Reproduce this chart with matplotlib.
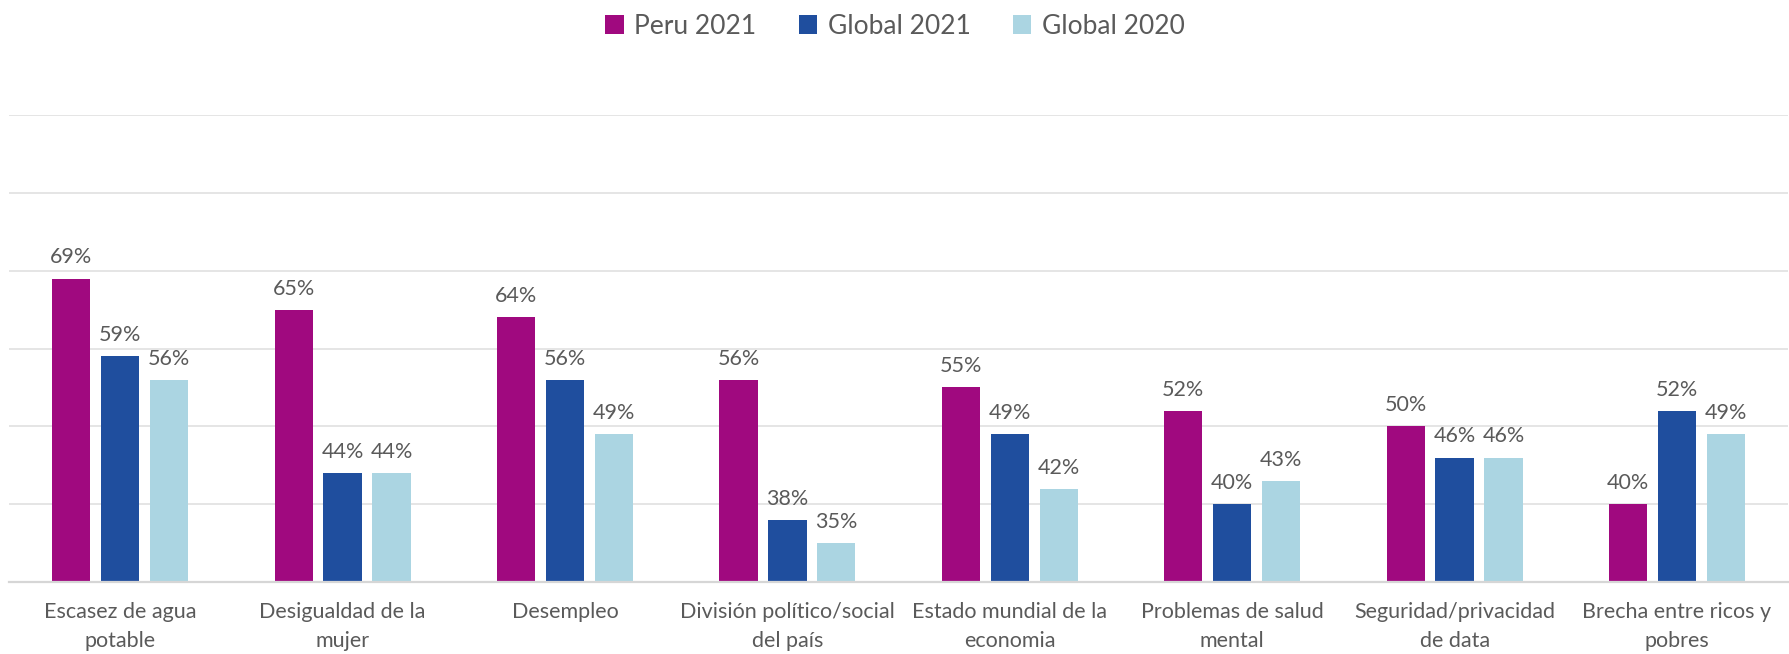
import matplotlib
matplotlib.use("Agg")
import matplotlib.pyplot as plt
import numpy as np

categories = ["Escasez de agua\npotable", "Desigualdad de la\nmujer", "Desempleo",
              "División político/social\ndel país", "Estado mundial de la\neconomia",
              "Problemas de salud\nmental", "Seguridad/privacidad\nde data",
              "Brecha entre ricos y\npobres"]
series_names = ["Peru 2021", "Global 2021", "Global 2020"]
peru_2021 = [69, 65, 64, 56, 55, 52, 50, 40]
global_2021 = [59, 44, 56, 38, 49, 40, 46, 52]
global_2020 = [56, 44, 49, 35, 42, 43, 46, 49]
colors = ["#A0097F", "#1F4E9E", "#ABD5E2"]

plt.rcParams['font.family'] = ['Lato', 'DejaVu Sans']
txt = "#5a5a5a"

fig = plt.figure(figsize=(17.9, 6.54), dpi=100)
ax = fig.add_axes([0.005, 0.110, 0.994, 0.714])

x = np.arange(len(categories))
w = 0.172
step = 0.22
for i, (vals, name) in enumerate(zip([peru_2021, global_2021, global_2020], series_names)):
    pos = x + (i - 1) * step
    ax.bar(pos, np.array(vals) - 30, width=w, bottom=30, color=colors[i], label=name, zorder=3)
    for p, v in zip(pos, vals):
        ax.annotate(f"{v}%", (p, v), xytext=(0, 8), textcoords="offset points",
                    ha="center", va="bottom", fontsize=15.5, color=txt)

ax.set_ylim(30, 90)
ax.set_xlim(-0.5, len(categories) - 0.5)
ax.set_yticks([40, 50, 60, 70, 80, 90])
ax.yaxis.grid(True, color="#e3e3e3", linewidth=1.3, zorder=0)
ax.tick_params(axis="y", left=False, labelleft=False)
ax.set_xticks(x)
ax.set_xticklabels(categories, fontsize=15.5, color=txt, linespacing=1.6)
ax.tick_params(axis="x", length=0, pad=14)
for s in ["top", "right", "left"]:
    ax.spines[s].set_visible(False)
ax.spines["bottom"].set_color("#d6d6d6")
ax.spines["bottom"].set_linewidth(1.6)
ax.spines["bottom"].set_zorder(4)

leg = fig.legend(loc="upper center", bbox_to_anchor=(0.5, 1.015), ncol=3, frameon=False,
                 handlelength=0.7, handleheight=0.7, handletextpad=0.4,
                 columnspacing=1.6, prop={'size': 19})
for t in leg.get_texts():
    t.set_color(txt)

fig.savefig("out.png", dpi=100)
